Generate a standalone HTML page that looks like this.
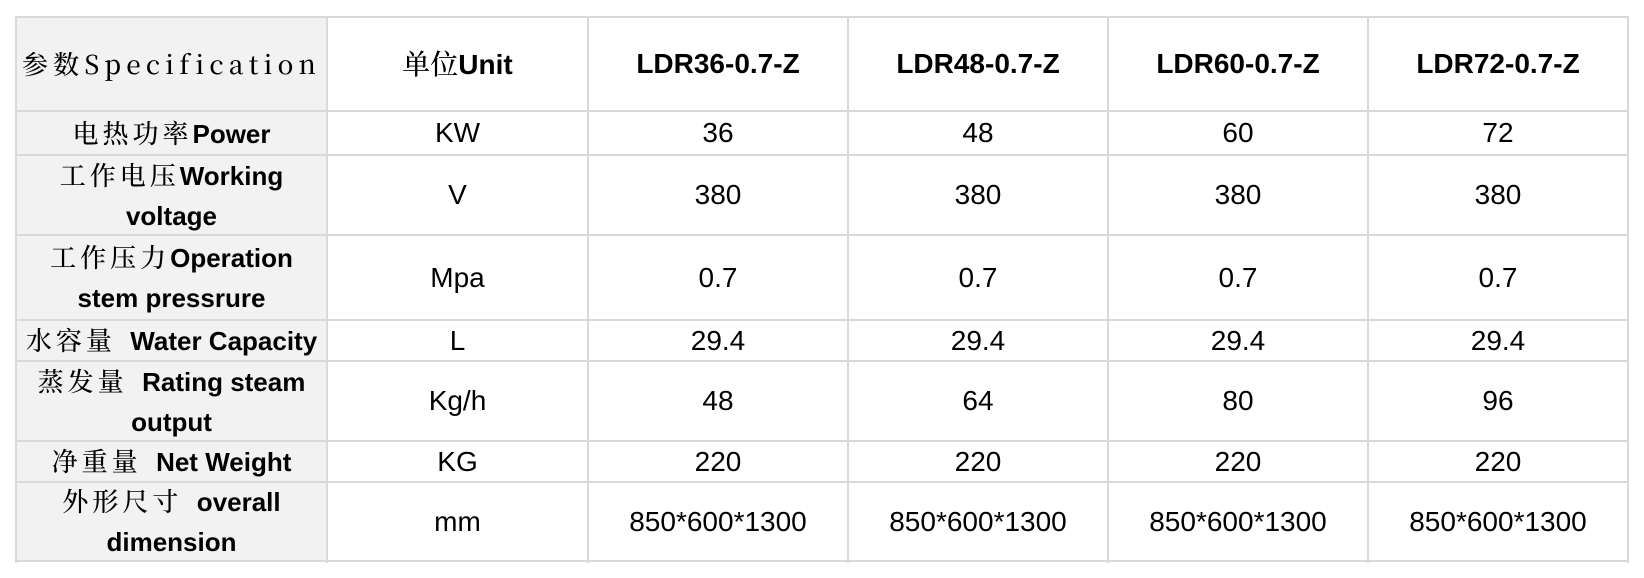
<!DOCTYPE html>
<html><head><meta charset="utf-8"><style>
body{margin:0;width:1644px;height:578px;background:#fff;position:relative;overflow:hidden;font-family:"Liberation Sans","Noto Sans CJK SC",sans-serif;color:#000}
.c{position:absolute;display:flex;align-items:center;justify-content:center;text-align:center;font-size:28px;line-height:40px;box-sizing:border-box}
.g{background:#f2f2f2}
.h{position:absolute;background:#d9d9d9}
.b{font-weight:bold}
.cj{font-family:"Noto Serif CJK SC","Liberation Serif",serif;font-weight:500}
.l{font-size:26px;font-weight:bold}
</style></head><body>
<div class="c g" style="left:16px;top:17px;width:311px;height:516px;"></div>
<div id="cells"></div>
<script>
var xs=[16,327,588,848,1108,1368,1628], ys=[17,111,155,235,320,361,441,482,561];
var S='<span class="cj" style="letter-spacing:4px">';
var rows=[
['<span class="cj" style="font-size:26px;letter-spacing:5.2px">参数Specification</span>','<span class="cj">单位</span><b>Unit</b>','<b>LDR36-0.7-Z</b>','<b>LDR48-0.7-Z</b>','<b>LDR60-0.7-Z</b>','<b>LDR72-0.7-Z</b>'],
[S+'电热功率</span>Power','KW','36','48','60','72'],
[S+'工作电压</span>Working<br>voltage','V','380','380','380','380'],
[S+'工作压力</span>Operation<br>stem pressrure','Mpa','0.7','0.7','0.7','0.7'],
[S+'水容量</span>&nbsp; Water Capacity','L','29.4','29.4','29.4','29.4'],
[S+'蒸发量</span>&nbsp; Rating steam<br>output','Kg/h','48','64','80','96'],
[S+'净重量</span>&nbsp; Net Weight','KG','220','220','220','220'],
[S+'外形尺寸</span>&nbsp; overall<br>dimension','mm','850*600*1300','850*600*1300','850*600*1300','850*600*1300']];
var h='';
for(var r=0;r<8;r++)for(var c=0;c<6;c++){
 var cls='c'+(c==0?' g'+(r>0?' l':''):'');
 h+='<div class="'+cls+'" style="left:'+xs[c]+'px;top:'+ys[r]+'px;width:'+(xs[c+1]-xs[c])+'px;height:'+(ys[r+1]-ys[r])+'px"><div style="white-space:nowrap">'+rows[r][c]+'</div></div>';
}
for(var i=0;i<xs.length;i++)h+='<div class="h" style="left:'+(xs[i]-1)+'px;top:16px;width:2px;height:547px"></div>';
for(var j=0;j<ys.length;j++)h+='<div class="h" style="left:15px;top:'+(ys[j]-1)+'px;width:1614px;height:2px"></div>';
document.getElementById('cells').innerHTML=h;
</script>
</body></html>
